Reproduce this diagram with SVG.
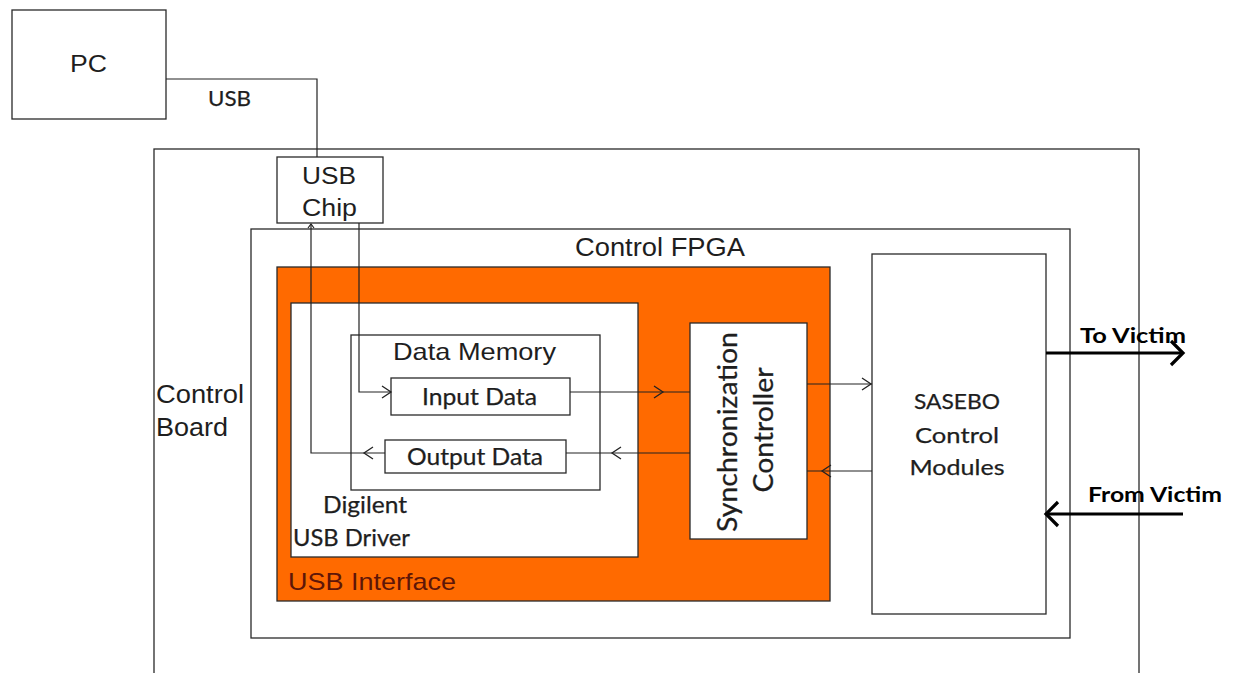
<svg xmlns="http://www.w3.org/2000/svg" xmlns:xlink="http://www.w3.org/1999/xlink" width="1235" height="673" viewBox="0 0 1235 673">
  <style>
    .box { fill: #ffffff; stroke: #2a2a2a; stroke-width: 1.3; }
    .orange { fill: #ff6a00; stroke: #2a2a2a; stroke-width: 1.3; }
    .arial { font-family: "Liberation Sans", Arial, sans-serif; fill: #1e1e1e; }
    .cal { font-family: Lato, "Open Sans", sans-serif; fill: #1e1e1e; stroke: #1e1e1e; stroke-width: 0.25; }
    .bold { font-weight: bold; fill: #000000; stroke: none; }
    .wire { fill: none; stroke: #222222; stroke-width: 1.2; }
    .thick { fill: none; stroke: #000000; stroke-width: 3.2; }
  </style>
  <defs>
    <!-- open chevron heads, tip at the origin pointing right -->
    <path id="chev" d="M-9,-6 L0,0 L-9,6" fill="none" stroke="#222222" stroke-width="1.3"/>
    <path id="chevSmall" d="M-4,-3 L0,0 L-4,3" fill="none" stroke="#222222" stroke-width="1.2"/>
    <path id="chevBig" d="M-12,-12 L0,0 L-12,12" fill="none" stroke="#000000" stroke-width="3.2"/>
  </defs>

  <rect width="1235" height="673" fill="#ffffff"/>

  <g id="pc">
    <rect class="box" x="12" y="10" width="154" height="109"/>
    <text class="arial" x="70" y="72" font-size="23" textLength="37" lengthAdjust="spacingAndGlyphs">PC</text>
  </g>

  <g id="control-board">
    <rect class="box" x="154" y="149" width="985" height="540"/>
    <text class="arial" x="156" y="403" font-size="25" textLength="88" lengthAdjust="spacingAndGlyphs">Control</text>
    <text class="arial" x="156" y="436" font-size="25" textLength="72" lengthAdjust="spacingAndGlyphs">Board</text>
  </g>

  <g id="usb-chip">
    <rect class="box" x="277" y="157" width="106" height="66"/>
    <text class="arial" x="302" y="184" font-size="23" textLength="54" lengthAdjust="spacingAndGlyphs">USB</text>
    <text class="arial" x="302" y="216" font-size="23" textLength="55" lengthAdjust="spacingAndGlyphs">Chip</text>
  </g>

  <g id="control-fpga">
    <rect class="box" x="251" y="229" width="819" height="409"/>
    <text class="arial" x="575" y="256" font-size="26" textLength="170" lengthAdjust="spacingAndGlyphs">Control FPGA</text>
  </g>

  <g id="usb-interface">
    <rect class="orange" x="277" y="267" width="553" height="334"/>
    <text class="arial" x="288" y="590" font-size="24" style="fill:#5e1608" textLength="168" lengthAdjust="spacingAndGlyphs">USB Interface</text>
  </g>

  <g id="usb-driver">
    <rect class="box" x="291" y="303" width="347" height="254"/>
    <text class="cal" x="323" y="513" font-size="23" textLength="84" lengthAdjust="spacingAndGlyphs">Digilent</text>
    <text class="cal" x="293" y="546" font-size="23" textLength="117" lengthAdjust="spacingAndGlyphs">USB Driver</text>
  </g>

  <g id="data-memory">
    <rect class="box" x="351" y="335" width="249" height="155"/>
    <text class="arial" x="393" y="360" font-size="24" textLength="163" lengthAdjust="spacingAndGlyphs">Data Memory</text>
  </g>

  <g id="input-data">
    <rect class="box" x="391" y="378" width="179" height="37"/>
    <text class="cal" x="422" y="405" font-size="23" textLength="115" lengthAdjust="spacingAndGlyphs">Input Data</text>
  </g>

  <g id="output-data">
    <rect class="box" x="385" y="440" width="181" height="33"/>
    <text class="cal" x="407" y="465" font-size="23" textLength="136" lengthAdjust="spacingAndGlyphs">Output Data</text>
  </g>

  <g id="sync-controller">
    <rect class="box" x="690" y="323" width="117" height="216"/>
    <text class="cal" transform="translate(737,432) rotate(-90)" x="0" y="0" text-anchor="middle" font-size="26" textLength="200" lengthAdjust="spacingAndGlyphs">Synchronization</text>
    <text class="cal" transform="translate(773,430) rotate(-90)" x="0" y="0" text-anchor="middle" font-size="26" textLength="125" lengthAdjust="spacingAndGlyphs">Controller</text>
  </g>

  <g id="sasebo">
    <rect class="box" x="872" y="254" width="174" height="360"/>
    <text class="cal" x="957" y="409" text-anchor="middle" font-size="22" textLength="86" lengthAdjust="spacingAndGlyphs">SASEBO</text>
    <text class="cal" x="957" y="443" text-anchor="middle" font-size="22" textLength="84" lengthAdjust="spacingAndGlyphs">Control</text>
    <text class="cal" x="957" y="475" text-anchor="middle" font-size="22" textLength="95" lengthAdjust="spacingAndGlyphs">Modules</text>
  </g>

  <g id="connectors">
    <!-- PC to USB chip -->
    <polyline class="wire" points="166,79 317,79 317,157"/>
    <text class="cal" x="208" y="106" font-size="22" textLength="43" lengthAdjust="spacingAndGlyphs">USB</text>

    <!-- USB chip to input data -->
    <polyline class="wire" points="359,223 359,392 391,392"/>
    <use xlink:href="#chev" transform="translate(391,392)"/>

    <!-- output data back to USB chip -->
    <polyline class="wire" points="385,453 311,453 311,224"/>
    <use xlink:href="#chev" transform="translate(364,453) rotate(180)"/>
    <use xlink:href="#chevSmall" transform="translate(311,224) rotate(-90)"/>

    <!-- input data to synchronization controller -->
    <line class="wire" x1="570" y1="392" x2="690" y2="392"/>
    <use xlink:href="#chev" transform="translate(663,392)"/>

    <!-- synchronization controller to output data -->
    <line class="wire" x1="690" y1="453" x2="566" y2="453"/>
    <use xlink:href="#chev" transform="translate(612,453) rotate(180)"/>

    <!-- synchronization controller to SASEBO modules -->
    <line class="wire" x1="807" y1="384" x2="872" y2="384"/>
    <use xlink:href="#chev" transform="translate(871,384)"/>

    <!-- SASEBO modules to synchronization controller -->
    <line class="wire" x1="872" y1="471" x2="807" y2="471"/>
    <use xlink:href="#chev" transform="translate(822,471) rotate(180)"/>

    <!-- external victim links -->
    <line class="thick" x1="1046" y1="353" x2="1182" y2="353"/>
    <use xlink:href="#chevBig" transform="translate(1183,353)"/>
    <text class="cal bold" x="1080" y="343" font-size="21" textLength="106" lengthAdjust="spacingAndGlyphs">To Victim</text>

    <line class="thick" x1="1183" y1="514" x2="1047" y2="514"/>
    <use xlink:href="#chevBig" transform="translate(1046,514) rotate(180)"/>
    <text class="cal bold" x="1088" y="502" font-size="21" textLength="134" lengthAdjust="spacingAndGlyphs">From Victim</text>
  </g>
</svg>
